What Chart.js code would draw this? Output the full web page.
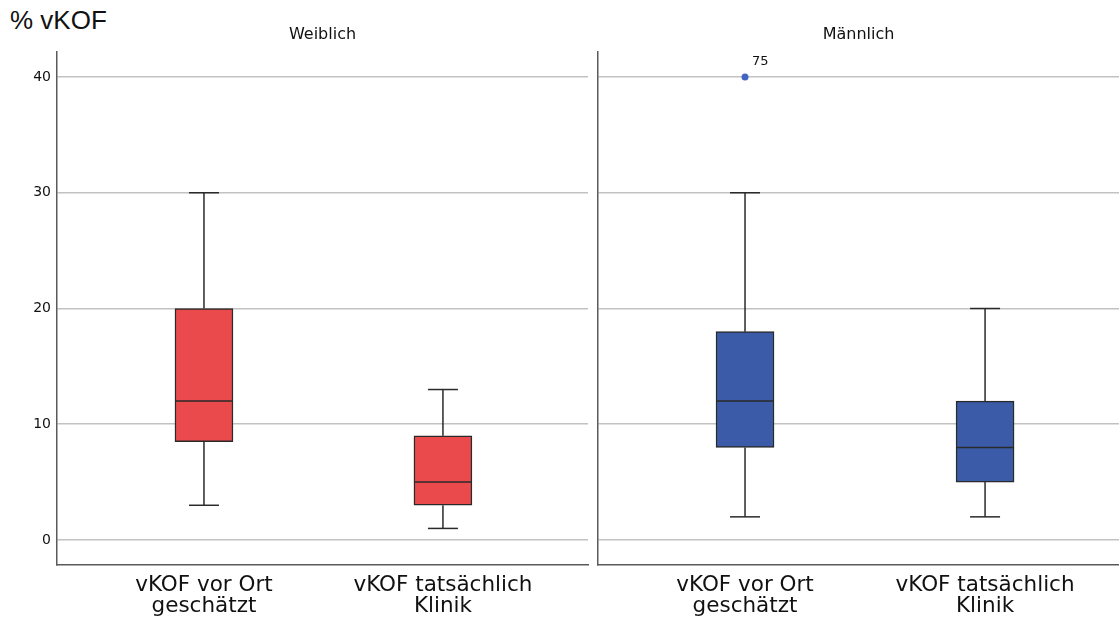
<!DOCTYPE html>
<html>
<head>
<meta charset="utf-8">
<script src="https://cdn.jsdelivr.net/npm/chart.js@4.4.0/dist/chart.umd.min.js"></script>
<style>
  html, body { margin:0; padding:0; background:#fff; width:1119px; height:619px; overflow:hidden; }
  #title { position:absolute; left:10px; top:7px; font-family:"Liberation Sans", Arial, sans-serif; font-size:26px; line-height:26px; color:#111; }
  #cL { position:absolute; left:0; top:0; }
  #cR { position:absolute; left:596px; top:0; }
</style>
</head>
<body>
<div id="title">% vKOF</div>
<canvas id="cL" width="590" height="619"></canvas>
<canvas id="cR" width="523" height="619"></canvas>
<script>
// ---- data ----
const categories = [["vKOF vor Ort", "geschätzt"], ["vKOF tatsächlich", "Klinik"]];
const panels = ["Weiblich", "Männlich"];
const yTicks = [0, 10, 20, 30, 40];

const femaleMin    = [3, 1];
const femaleQ1     = [8.5, 3];
const femaleMedian = [12, 5];
const femaleQ3     = [20, 9];
const femaleMax    = [30, 13];

const maleMin    = [2, 2];
const maleQ1     = [8, 5];
const maleMedian = [12, 8];
const maleQ3     = [18, 12];
const maleMax    = [30, 20];

const maleOutlierCat   = [0];
const maleOutlierValue = [40];
const maleOutlierLabel = ["75"];
const femaleOutlierCat = [];
const femaleOutlierValue = [];
const femaleOutlierLabel = [];

// ---- styles ----
const RED = '#EB4A4D', BLUE = '#3B5BA9', DOT = '#4264C2';
const LINE = '#2a2a2a', GRID = '#c2c2c2', AXIS = '#5a5a5a';
const TICKFONT = '"DejaVu Sans", sans-serif';

const boxPlugin = {
  id: 'boxplot',
  afterDatasetsDraw(chart, args, o) {
    const {ctx, scales: {x, y}, chartArea} = chart;
    ctx.save();
    ctx.strokeStyle = LINE; ctx.lineWidth = 1.5;
    const seg = (x1, y1, x2, y2) => { ctx.beginPath(); ctx.moveTo(x1, y1); ctx.lineTo(x2, y2); ctx.stroke(); };
    o.min.forEach((mn, i) => {
      const px = x.getPixelForValue(i + 1);
      seg(px, y.getPixelForValue(o.q3[i]), px, y.getPixelForValue(o.max[i]));
      seg(px, y.getPixelForValue(o.q1[i]), px, y.getPixelForValue(mn));
      seg(px - 15, y.getPixelForValue(o.max[i]), px + 15, y.getPixelForValue(o.max[i]));
      seg(px - 15, y.getPixelForValue(mn), px + 15, y.getPixelForValue(mn));
      seg(px - 29, y.getPixelForValue(o.median[i]), px + 29, y.getPixelForValue(o.median[i]));
    });
    ctx.fillStyle = '#111';
    ctx.font = '13px ' + TICKFONT;
    ctx.textAlign = 'left'; ctx.textBaseline = 'middle';
    o.outCat.forEach((c, i) => {
      ctx.fillText(o.outLabel[i], x.getPixelForValue(c + 1) + 7, y.getPixelForValue(o.outVal[i]) - 15);
    });
    ctx.font = '16px ' + TICKFONT;
    ctx.textAlign = 'center';
    ctx.fillText(o.title, (chartArea.left + chartArea.right) / 2, 35);
    ctx.restore();
  }
};

function makeChart(id, panelIdx, min, q1, med, q3, max, outCat, outVal, outLabel, color, xmin, xmax, yWidth, showY) {
  const boxes = min.map((_, i) => ({x: i + 1, y: [q1[i], q3[i]]}));
  const outliers = outCat.map((c, i) => ({x: c + 1, y: outVal[i]}));
  return new Chart(document.getElementById(id), {
    data: {
      datasets: [
        {type: 'bar', data: boxes, backgroundColor: color, borderColor: LINE, borderWidth: 1.5,
         borderSkipped: false, barThickness: 58},
        {type: 'scatter', data: outliers, pointRadius: 3.5, pointBackgroundColor: DOT, pointBorderColor: DOT, pointBorderWidth: 0}
      ]
    },
    options: {
      responsive: false, maintainAspectRatio: false, animation: false, devicePixelRatio: 1,
      layout: {autoPadding: false, padding: {top: 52, bottom: 0, left: 0, right: showY ? 2 : 0}},
      plugins: {
        legend: {display: false}, tooltip: {enabled: false}, title: {display: false},
        boxplot: {min, q1, median: med, q3, max, outCat, outVal, outLabel, title: panels[panelIdx]}
      },
      scales: {
        x: {
          type: 'linear', min: xmin, max: xmax, offset: false,
          afterBuildTicks: s => { s.ticks = categories.map((_, i) => ({value: i + 1})); },
          afterFit: s => { s.height = 54; s.paddingLeft = 0; s.paddingRight = 0; },
          ticks: {callback: (v) => categories[Math.round(v) - 1], color: '#111', padding: 10,
                  font: {family: TICKFONT, size: 21.5, lineHeight: 0.97}, maxRotation: 0, autoSkip: false},
          grid: {display: false, drawTicks: false},
          border: {display: true, color: AXIS, width: 1.5}
        },
        y: {
          type: 'linear', min: -2.16, max: 42.16,
          afterBuildTicks: s => { s.ticks = yTicks.map(v => ({value: v})); },
          afterFit: s => { s.width = yWidth; },
          ticks: {display: showY, color: '#111', padding: 6, font: {family: TICKFONT, size: 14}},
          grid: {color: GRID, lineWidth: 1.5, drawTicks: false},
          border: {display: true, color: AXIS, width: 1.5}
        }
      }
    },
    plugins: [boxPlugin]
  });
}

makeChart('cL', 0, femaleMin, femaleQ1, femaleMedian, femaleQ3, femaleMax,
  femaleOutlierCat, femaleOutlierValue, femaleOutlierLabel, RED, 0.385, 2.607, 57, true);
makeChart('cR', 1, maleMin, maleQ1, maleMedian, maleQ3, maleMax,
  maleOutlierCat, maleOutlierValue, maleOutlierLabel, BLUE, 0.3875, 2.558, 2, false);
</script>
</body>
</html>
